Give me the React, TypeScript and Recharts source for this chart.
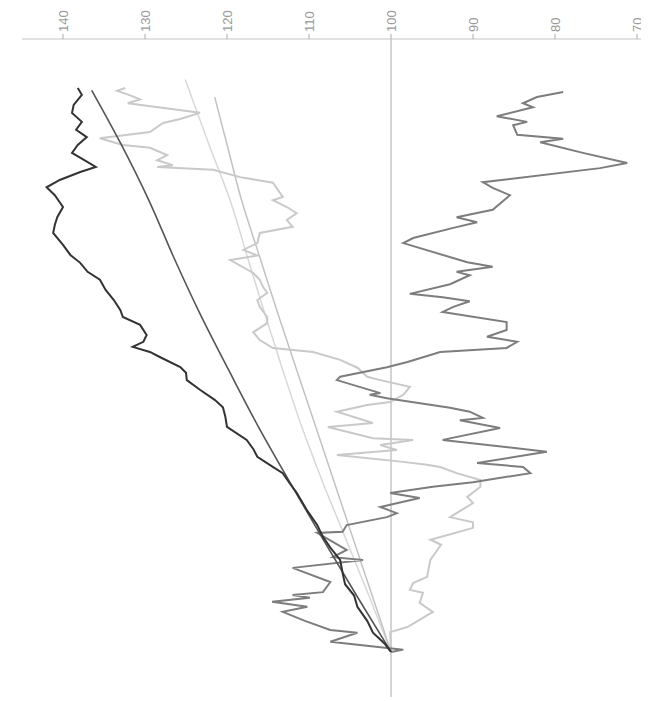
import React from "react";
import { LineChart, Line, XAxis, YAxis, ReferenceLine } from "recharts";

// Value-axis ticks (index level)
const valueTicks = [70, 80, 90, 100, 110, 120, 130, 140];

// Dark noisy series
const blackT = [0, 1.5, 3.4, 5.5, 8, 10, 12, 14, 16.3, 18.5, 20.4, 22.5, 25, 28.2, 30, 31.7, 33, 34.6, 36, 37.6, 39.9, 41.7, 43.4, 44.7, 46.5, 48.2, 49.5, 50.5, 52.3, 53.2, 54.1, 55, 56.2, 58, 59.4, 60.6, 62.4, 64.2, 66, 67.4, 69, 70.4, 72.2, 74.3, 75.7, 77.1, 78.9, 81, 82.4, 83.7, 85.1, 86, 87.2, 88.5, 89.9, 91.3, 92.6, 94, 95.6, 97, 98.8, 100];
const blackV = [100, 100.8, 102.2, 102.9, 104.1, 104.5, 105.6, 105.9, 106.2, 107.4, 108.3, 109, 110.2, 111.5, 112.4, 113.2, 114.6, 116.3, 116.8, 117.6, 120, 120.2, 120.5, 121.5, 123.3, 124.9, 125, 125.7, 128.2, 129.4, 131.5, 130.2, 129.8, 130.6, 132.7, 133, 133.8, 134.8, 135.5, 137, 137.9, 139.1, 140, 141.2, 141, 140.7, 140, 141, 142, 140.4, 137.9, 136, 137.4, 138.9, 138.2, 137.1, 138.4, 137.7, 138.9, 138.7, 137.7, 138.2];

// Medium gray noisy series
const grayT = [0, 0.4, 1.8, 3.4, 3.9, 5.5, 7.1, 8, 8.9, 9.6, 10.1, 10.6, 12.4, 14.9, 16.3, 16.8, 18.1, 21.1, 21.3, 22.5, 23.9, 24.6, 25.7, 27.3, 28.2, 29.3, 30.1, 31.7, 32.8, 33.5, 35.5, 37.6, 39.7, 41.1, 41.5, 42.6, 43.3, 45, 45.6, 45.9, 48.2, 48.8, 50.5, 51.4, 53.2, 53.9, 55, 55.9, 57.1, 58.5, 60.3, 61.2, 62.2, 62.9, 63.5, 65.2, 66.8, 67.4, 68.3, 69.1, 72.5, 73.4, 75.2, 76.2, 77.1, 78.4, 81, 82.3, 83.3, 85.8, 86.7, 88.5, 90.4, 91, 91.7, 93.4, 94, 95, 96.6, 97.3, 98.4, 99.3];
const grayV = [100, 98.5, 107.4, 104.1, 107.4, 110.5, 113.2, 110.2, 114.5, 109.9, 112, 108.3, 107.4, 112, 103.4, 107.1, 105.4, 109, 105.9, 105.4, 100.5, 99.3, 101.3, 96.5, 100.1, 94.9, 90, 83, 83.9, 89.5, 81, 93.7, 86.7, 91.6, 88.8, 90.4, 92.8, 100.5, 102.6, 101.3, 106.6, 106.2, 100.5, 98, 94, 85.9, 84.6, 88.3, 85.9, 85.9, 93.7, 92.4, 90.4, 93.7, 97.7, 92.8, 90.4, 92, 87.6, 90.7, 98.5, 97.3, 92.4, 89.5, 92, 87.6, 85.5, 87.6, 88.8, 74.5, 71.2, 76.6, 81.8, 79, 84.6, 85.1, 83.4, 87.1, 82.7, 83.9, 82.2, 79];

// Light gray noisy series
const lightT = [0, 3.5, 4.4, 7.1, 8.7, 10.5, 11, 12.2, 13.3, 16.3, 19, 19.9, 20.7, 22, 23, 23.9, 26.4, 27.5, 29.3, 30.5, 31.7, 32.8, 33.2, 33.7, 34.9, 35.8, 36.7, 37.6, 37.9, 39.9, 40.6, 42.6, 43.8, 44.3, 45.6, 47, 48.2, 48.8, 50.4, 51.8, 53.2, 53.9, 55.3, 56.7, 58.3, 59.4, 61.2, 62.4, 63.7, 64.7, 66, 67.2, 69.5, 70.3, 71.3, 72.5, 74.3, 75.4, 76.6, 77.8, 78.9, 80.1, 80.7, 83.2, 84.2, 85.5, 86, 86.3, 87.2, 88.1, 89.4, 89.9, 91.1, 92.2, 93.8, 94.5, 95.6, 97.3, 98, 98.7, 99.5, 100];
const lightV = [100, 100.1, 98, 94.9, 96.5, 96.1, 97.7, 97.3, 95.6, 95.2, 93.9, 95.2, 93.2, 90, 90, 92.8, 90, 90.7, 89.1, 89.1, 92, 94, 95.6, 98.5, 106.6, 99.3, 101.3, 97.3, 102.2, 107.7, 102.2, 106.6, 102.9, 100.1, 98.5, 97.7, 101.3, 102.9, 104.1, 106.2, 109.5, 114.4, 116, 116.8, 115.1, 115.1, 116, 116.3, 115.1, 115.6, 116, 116.8, 119.6, 116.3, 118, 116.3, 116, 112, 112.7, 111.5, 112.7, 114.4, 113.2, 114.4, 118.4, 121.7, 128.5, 126.6, 128.5, 127.3, 129.4, 132.7, 135.5, 129.4, 127.8, 125.7, 123.3, 132.1, 130.6, 131.8, 133.4, 132.4];

// Smooth trend curves
const trendDarkT = [0, 10, 20, 30, 40, 50, 60, 70, 80, 90, 99.6];
const trendDarkV = [100, 104.2, 108.3, 112.3, 116.2, 119.8, 123.3, 126.5, 129.5, 132.9, 136.5];
const trendLightAT = [0, 10, 20, 30, 40, 50, 60, 70, 80, 90, 101.5];
const trendLightAV = [100, 102.7, 105.5, 108.3, 110.9, 113.2, 115.4, 117.5, 119.6, 122.2, 125.1];
const trendLightBT = [0, 10, 20, 30, 40, 50, 60, 70, 80, 90, 98.4];
const trendLightBV = [100, 102.3, 104.6, 106.9, 109.2, 111.5, 113.8, 116, 118.2, 120, 121.5];

const toRows = (ts: number[], vs: number[]) => ts.map((t, i) => ({ t, v: vs[i] }));

const blackData = toRows(blackT, blackV);
const grayData = toRows(grayT, grayV);
const lightData = toRows(lightT, lightV);
const trendDark = toRows(trendDarkT, trendDarkV);
const trendA = toRows(trendLightAT, trendLightAV);
const trendB = toRows(trendLightBT, trendLightBV);

const RotTick = (props: any) => {
  const { x, y, payload } = props;
  return (
    <text
      x={x}
      y={y}
      transform={`rotate(-90 ${x} ${y})`}
      textAnchor="start"
      dominantBaseline="central"
      fontFamily="Liberation Sans, Arial, sans-serif"
      fontSize={13}
      fill="#9a9a9a"
    >
      {payload.value}
    </text>
  );
};

export default function App() {
  return (
    <div style={{ width: 641, height: 693, overflow: "hidden" }}>
      <LineChart
        width={700}
        height={693}
        layout="vertical"
        margin={{ top: 0, right: 30, bottom: 4, left: 14 }}
      >
        <XAxis
          type="number"
          dataKey="v"
          orientation="top"
          reversed
          domain={[65, 145]}
          ticks={valueTicks}
          height={31}
          tickSize={5}
          tickMargin={2}
          axisLine={{ stroke: "#c4c4c4" }}
          tickLine={{ stroke: "#aaaaaa" }}
          tick={<RotTick />}
          allowDataOverflow
        />
        <YAxis type="number" dataKey="t" domain={[-8, 108.7]} reversed hide allowDataOverflow />
        <ReferenceLine x={100} stroke="#a8a8a8" strokeWidth={1} />
        <Line data={trendA} dataKey="v" type="monotone" stroke="#d8d8d8" strokeWidth={1.5} dot={false} isAnimationActive={false} />
        <Line data={trendB} dataKey="v" type="monotone" stroke="#c2c2c2" strokeWidth={1.5} dot={false} isAnimationActive={false} />
        <Line data={lightData} dataKey="v" type="linear" stroke="#c9c9c9" strokeWidth={2} dot={false} isAnimationActive={false} />
        <Line data={grayData} dataKey="v" type="linear" stroke="#7d7d7d" strokeWidth={2} dot={false} isAnimationActive={false} />
        <Line data={trendDark} dataKey="v" type="monotone" stroke="#555555" strokeWidth={1.6} dot={false} isAnimationActive={false} />
        <Line data={blackData} dataKey="v" type="linear" stroke="#333333" strokeWidth={2} dot={false} isAnimationActive={false} />
      </LineChart>
    </div>
  );
}
